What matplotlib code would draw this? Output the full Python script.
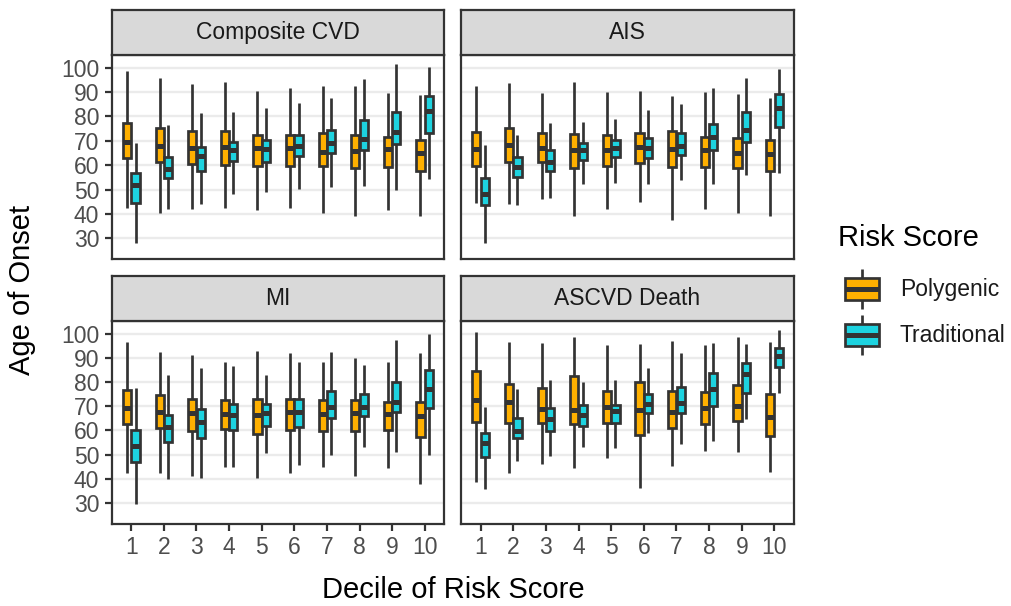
import matplotlib
matplotlib.use('Agg')
import matplotlib.pyplot as plt
from matplotlib.patches import Rectangle

plt.rcParams['font.family'] = ['Liberation Sans', 'DejaVu Sans']

# ---------------- data (lo whisker, Q1, median, Q3, hi whisker) ----------------
deciles = [1, 2, 3, 4, 5, 6, 7, 8, 9, 10]
panel_titles = ['Composite CVD', 'AIS', 'MI', 'ASCVD Death']
series_names = ['Polygenic', 'Traditional']
series_colors = ['#FFB000', '#1DD3E0']
y_ticks = [30, 40, 50, 60, 70, 80, 90, 100]

cvd_poly = [(42.5, 63.1, 69.7, 77.2, 98.8), (40.4, 61.2, 68.0, 75.4, 95.7),
            (41.9, 60.5, 67.2, 74.1, 93.3), (42.5, 60.2, 67.6, 74.1, 94.0),
            (41.5, 59.8, 67.2, 72.4, 90.3), (42.5, 59.5, 66.9, 72.4, 91.6),
            (40.2, 59.5, 65.6, 73.2, 92.3), (39.2, 58.7, 65.8, 72.3, 92.3),
            (41.5, 59.1, 66.5, 71.6, 89.6), (39.2, 57.7, 65.1, 70.5, 88.7)]
cvd_trad = [(28.2, 44.6, 51.8, 56.9, 69.3), (42.2, 54.7, 58.6, 63.5, 76.4),
            (43.9, 57.5, 63.9, 67.6, 81.3), (48.0, 61.8, 66.2, 69.7, 82.0),
            (49.1, 61.2, 66.6, 70.5, 83.3), (50.2, 63.6, 67.9, 72.4, 85.7),
            (51.1, 65.0, 69.1, 74.3, 87.5), (51.4, 66.4, 70.6, 78.5, 95.5),
            (49.9, 68.6, 73.8, 82.0, 101.5), (54.3, 73.2, 82.3, 88.3, 100.3)]
ais_poly = [(44.3, 59.8, 66.8, 73.8, 92.3), (44.0, 61.4, 68.3, 75.2, 93.7),
            (46.3, 61.4, 66.9, 73.4, 89.6), (39.2, 58.7, 66.1, 73.0, 94.0),
            (42.2, 59.8, 66.2, 72.4, 90.0), (44.7, 60.9, 67.3, 73.4, 90.3),
            (37.7, 59.1, 66.6, 74.1, 88.5), (41.9, 59.1, 66.2, 71.7, 90.0),
            (40.4, 58.8, 65.1, 71.3, 89.2), (39.2, 57.7, 64.7, 70.4, 87.5)]
ais_trad = [(28.2, 43.7, 48.0, 54.8, 68.3), (43.6, 55.0, 59.1, 63.4, 72.4),
            (46.7, 57.5, 61.4, 66.1, 77.2), (52.2, 62.3, 66.1, 69.3, 77.8),
            (52.9, 63.2, 66.9, 70.2, 78.9), (52.2, 63.1, 67.1, 71.3, 82.7),
            (53.9, 64.2, 67.9, 73.4, 85.2), (52.2, 66.4, 71.5, 76.8, 91.5),
            (55.9, 69.4, 74.3, 81.9, 95.7), (56.6, 75.6, 83.5, 89.2, 99.5)]
mi_poly = [(42.4, 62.7, 69.4, 76.8, 96.6), (42.6, 61.0, 67.7, 74.5, 92.2),
           (41.3, 59.9, 67.2, 72.8, 91.1), (44.8, 60.6, 66.9, 72.4, 88.3),
           (40.3, 58.6, 66.6, 72.8, 92.7), (42.4, 60.2, 67.6, 73.2, 91.9),
           (45.1, 59.8, 66.9, 72.4, 88.3), (41.4, 59.9, 67.2, 72.4, 90.0),
           (44.7, 60.3, 66.9, 71.9, 88.1), (38.0, 57.3, 65.8, 71.9, 92.0)]
mi_trad = [(29.6, 46.9, 53.5, 60.2, 77.6), (40.0, 55.1, 61.4, 66.6, 82.8),
           (40.3, 56.8, 63.5, 68.7, 85.6), (44.8, 60.2, 66.2, 70.8, 86.7),
           (50.6, 61.7, 67.2, 70.8, 82.8), (45.8, 61.6, 67.6, 72.8, 88.1),
           (49.9, 65.0, 69.7, 76.5, 92.3), (53.1, 66.1, 69.8, 74.9, 87.2),
           (51.0, 67.5, 71.6, 80.0, 97.3), (49.9, 69.1, 77.1, 84.8, 100.0)]
death_poly = [(38.9, 63.4, 72.5, 84.5, 100.7), (42.4, 63.1, 71.6, 79.3, 96.6),
              (46.2, 63.1, 68.8, 77.6, 96.2), (44.4, 62.5, 68.3, 82.3, 98.6),
              (48.8, 63.1, 69.5, 76.5, 95.2), (36.2, 58.1, 68.4, 80.0, 95.9),
              (45.5, 60.9, 67.6, 76.5, 97.0), (51.6, 62.7, 69.3, 76.0, 95.2),
              (51.0, 64.0, 70.1, 78.7, 98.6), (42.8, 57.9, 65.4, 74.9, 96.6)]
death_trad = [(35.9, 48.9, 54.8, 58.8, 69.8), (47.6, 56.8, 59.9, 65.3, 77.1),
              (49.6, 59.9, 64.7, 69.1, 80.8), (53.1, 62.0, 66.2, 70.4, 80.1),
              (52.6, 62.9, 68.2, 70.4, 80.8), (59.1, 67.1, 70.8, 74.9, 86.0),
              (54.3, 67.1, 71.2, 78.0, 91.8), (55.8, 70.2, 77.1, 83.8, 96.3),
              (64.6, 75.4, 83.5, 87.8, 95.9), (75.3, 86.4, 90.7, 94.1, 101.4)]

panel_data = [(cvd_poly, cvd_trad), (ais_poly, ais_trad),
              (mi_poly, mi_trad), (death_poly, death_trad)]

# ---------------- styling / layout ----------------
W, H = 1011, 606
DARK = '#333333'
LW = 1.6
BLW = 1.95
MLW = 3.6
fig = plt.figure(figsize=(W / 100, H / 100), dpi=100)


def add_ax(x0, y0, x1, y1):
    return fig.add_axes([x0 / W, 1 - y1 / H, (x1 - x0) / W, (y1 - y0) / H])


panel_boxes = [(111.7, 55, 444.3, 259.3), (461, 55, 794, 259.3),
               (111.7, 321, 444.3, 524), (461, 321, 794, 524)]
strip_boxes = [(111.7, 10, 444.3, 55), (461, 10, 794, 55),
               (111.7, 275.5, 444.3, 321), (461, 275.5, 794, 321)]
offsets = [-0.13, 0.13]

for i, (pb, sb) in enumerate(zip(panel_boxes, strip_boxes)):
    ax = add_ax(*pb)
    ax.set_xlim(0.4, 10.6)
    ax.set_ylim(21.4, 105.2)
    ax.set_axisbelow(True)
    ax.set_yticks(y_ticks)
    ax.set_xticks(deciles)
    ax.set_xticklabels([str(d) for d in deciles])
    ax.yaxis.grid(True, color='#EBEBEB', linewidth=1.7)
    ax.xaxis.grid(False)
    for sp in ax.spines.values():
        sp.set_color(DARK)
        sp.set_linewidth(LW)
    ax.tick_params(axis='both', color=DARK, width=LW, length=5,
                   labelsize=16.5, labelcolor='#4D4D4D', pad=4)
    if i % 2 == 1:
        ax.tick_params(axis='y', left=False, labelleft=False)
    if i < 2:
        ax.tick_params(axis='x', bottom=False, labelbottom=False)

    for s, data in enumerate(panel_data[i]):
        stats = [dict(whislo=d[0], q1=d[1], med=d[2], q3=d[3], whishi=d[4], fliers=[])
                 for d in data]
        pos = [x + offsets[s] for x in deciles]
        ax.bxp(stats, positions=pos, widths=0.25, patch_artist=True,
               showcaps=False, showfliers=False, manage_ticks=False,
               boxprops=dict(facecolor=series_colors[s], edgecolor=DARK, linewidth=BLW),
               whiskerprops=dict(color=DARK, linewidth=BLW, solid_capstyle='butt'),
               medianprops=dict(color=DARK, linewidth=MLW, solid_capstyle='butt'))

    st = add_ax(*sb)
    st.set_facecolor('#D9D9D9')
    st.set_xticks([])
    st.set_yticks([])
    for sp in st.spines.values():
        sp.set_color(DARK)
        sp.set_linewidth(LW)
    st.text(0.5, 0.5, panel_titles[i], transform=st.transAxes, ha='center',
            va='center', fontsize=16.5, color='#1A1A1A')

# axis titles
fig.text(22 / W, 1 - 290 / H, 'Age of Onset', rotation=90, fontsize=21,
         ha='center', va='center', color='black')
fig.text(453 / W, 1 - 590 / H, 'Decile of Risk Score', fontsize=21,
         ha='center', va='center', color='black')

# legend
fig.text(838 / W, 1 - 238 / H, 'Risk Score', fontsize=21, ha='left', va='center')
lg = add_ax(835, 258, 895, 364)
lg.set_xlim(835, 895)
lg.set_ylim(364, 258)
lg.axis('off')
key_centers = [288.5, 334.5]
for s, yc in enumerate(key_centers):
    lg.plot([861.5, 861.5], [yc - 20, yc + 20], color=DARK, linewidth=BLW,
            solid_capstyle='butt', zorder=1)
    lg.add_patch(Rectangle((844.5, yc - 11), 34, 22, facecolor=series_colors[s],
                           edgecolor=DARK, linewidth=BLW, zorder=2))
    lg.plot([844.5, 878.5], [yc, yc], color=DARK, linewidth=MLW,
            solid_capstyle='butt', zorder=3)
    fig.text(900 / W, 1 - (yc + 1) / H, series_names[s], fontsize=16.5,
             ha='left', va='center', color='#1A1A1A')

fig.savefig('out.png', dpi=100)
